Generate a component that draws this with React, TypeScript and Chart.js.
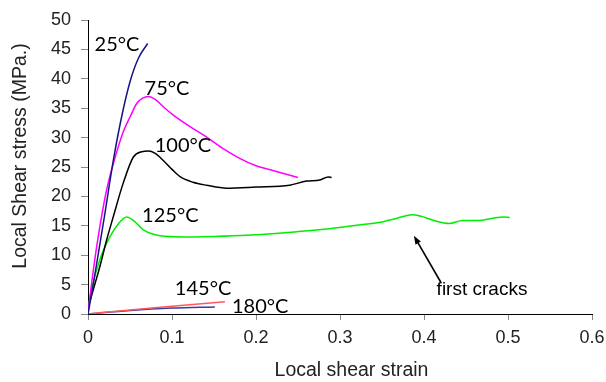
import React, { useEffect, useRef } from "react";
import { Chart, registerables } from "chart.js";

Chart.register(...registerables);

const strain25 = [0, 0.005, 0.012, 0.02, 0.03, 0.04, 0.05, 0.06, 0.071];
const stress25 = [0, 4, 10, 17, 26, 33.5, 39.5, 43.5, 46];

const strain75 = [0, 0.005, 0.012, 0.022, 0.032, 0.042, 0.05, 0.058, 0.065, 0.072, 0.08, 0.09, 0.1, 0.12, 0.14, 0.16, 0.18, 0.2, 0.22, 0.25];
const stress75 = [0, 6, 13, 21, 26.5, 31, 33.5, 35.8, 36.7, 37, 36.5, 35.2, 34, 32, 30.2, 28.2, 26.5, 25.2, 24.4, 23.2];

const strain100 = [0, 0.006, 0.014, 0.022, 0.03, 0.042, 0.054, 0.064, 0.072, 0.08, 0.089, 0.1, 0.11, 0.125, 0.141, 0.165, 0.2, 0.24, 0.26, 0.276, 0.286, 0.29];
const stress100 = [1, 4, 8, 12.5, 16.5, 22.3, 26.7, 27.6, 27.7, 27.3, 26.2, 24.6, 23.3, 22.4, 21.9, 21.4, 21.6, 21.9, 22.6, 22.8, 23.3, 23.2];

const strain125 = [0, 0.004, 0.014, 0.026, 0.036, 0.046, 0.055, 0.066, 0.086, 0.113, 0.15, 0.189, 0.249, 0.288, 0.32, 0.348, 0.368, 0.386, 0.397, 0.412, 0.43, 0.446, 0.465, 0.482, 0.495, 0.502];
const stress125 = [0.5, 4, 9.2, 13.1, 15.3, 16.5, 15.8, 14.3, 13.3, 13.1, 13.2, 13.4, 14, 14.5, 15.1, 15.6, 16.3, 16.9, 16.6, 15.9, 15.4, 15.9, 15.9, 16.3, 16.5, 16.4];

const strain145 = [0, 0.05, 0.1, 0.163];
const stress145 = [0, 0.7, 1.3, 2.1];

const strain180 = [0, 0.05, 0.1, 0.151];
const stress180 = [0, 0.6, 1.0, 1.2];

const seriesNames = ["25°C", "75°C", "100°C", "125°C", "145°C", "180°C"];
const seriesColors = ["#141486", "#ff00ff", "#000000", "#00ee00", "#ff5a5a", "#3a3aa8"];

const xTicks = [0, 0.1, 0.2, 0.3, 0.4, 0.5, 0.6];
const yTicks = [0, 5, 10, 15, 20, 25, 30, 35, 40, 45, 50];

const xTitle = "Local shear strain";
const yTitle = "Local Shear stress (MPa.)";

// label anchors in data units
const labelX = [0.0345, 0.094, 0.113, 0.098, 0.137, 0.205];
const labelY = [45.9, 38.3, 28.6, 16.7, 4.4, 1.2];

const noteText = "first cracks";
const noteAt = [0.415, 4.1];
const arrowFrom = [0.42, 5.4];
const arrowTo = [0.388, 13.3];

const toPts = (xs: number[], ys: number[]) => xs.map((x, i) => ({ x, y: ys[i] }));

const AXIS_FONT = "'Liberation Sans', Arial, sans-serif";

export default function App() {
  const ref = useRef<HTMLCanvasElement>(null);
  useEffect(() => {
    document.body.style.margin = "0";
    const ctx = ref.current!.getContext("2d")!;
    const all = [
      [strain25, stress25],
      [strain75, stress75],
      [strain100, stress100],
      [strain125, stress125],
      [strain145, stress145],
      [strain180, stress180],
    ];
    const annot = {
      id: "annot",
      afterDatasetsDraw(chart: any) {
        const c = chart.ctx;
        const xs = chart.scales.x;
        const ys = chart.scales.y;
        c.save();
        c.fillStyle = "#000";
        c.font = "20px Lato, 'Open Sans', sans-serif";
        c.textAlign = "center";
        c.textBaseline = "middle";
        seriesNames.forEach((n, i) => {
          c.fillText(n, xs.getPixelForValue(labelX[i]), ys.getPixelForValue(labelY[i]));
        });
        c.font = "19px " + AXIS_FONT;
        c.textAlign = "left";
        c.fillText(noteText, xs.getPixelForValue(noteAt[0]), ys.getPixelForValue(noteAt[1]));
        const x1 = xs.getPixelForValue(arrowFrom[0]);
        const y1 = ys.getPixelForValue(arrowFrom[1]);
        const x2 = xs.getPixelForValue(arrowTo[0]);
        const y2 = ys.getPixelForValue(arrowTo[1]);
        const ang = Math.atan2(y2 - y1, x2 - x1);
        c.strokeStyle = "#000";
        c.lineWidth = 1.6;
        c.beginPath();
        c.moveTo(x1, y1);
        c.lineTo(x2 - 5 * Math.cos(ang), y2 - 5 * Math.sin(ang));
        c.stroke();
        c.beginPath();
        c.moveTo(x2, y2);
        c.lineTo(x2 - 9 * Math.cos(ang - 0.35), y2 - 9 * Math.sin(ang - 0.35));
        c.lineTo(x2 - 9 * Math.cos(ang + 0.35), y2 - 9 * Math.sin(ang + 0.35));
        c.closePath();
        c.fill();

        // axis titles
        c.fillStyle = "#222";
        c.font = "19.5px " + AXIS_FONT;
        c.textAlign = "center";
        c.textBaseline = "middle";
        c.fillText(xTitle, 351.5, 371);
        c.translate(21, 156);
        c.rotate(-Math.PI / 2);
        c.fillText(yTitle, 0, 0);
        c.restore();
      },
    };
    const chart = new Chart(ctx, {
      type: "scatter",
      data: {
        datasets: all.map(([xs, ys], i) => ({
          label: seriesNames[i],
          data: toPts(xs, ys),
          showLine: true,
          borderColor: seriesColors[i],
          backgroundColor: seriesColors[i],
          borderWidth: 1.5,
          pointRadius: 0,
          cubicInterpolationMode: "monotone" as const,
        })),
      },
      options: {
        animation: false,
        responsive: false,
        maintainAspectRatio: false,
        layout: { padding: { left: 0, right: 14, top: 20, bottom: 0 } },
        plugins: { legend: { display: false }, tooltip: { enabled: false } },
        scales: {
          x: {
            type: "linear",
            min: 0,
            max: 0.6,
            afterBuildTicks: (s: any) => { s.ticks = xTicks.map((v) => ({ value: v })); },
            afterFit: (s: any) => { s.height = 68; s.paddingLeft = 0; s.paddingRight = 0; },
            grid: { drawOnChartArea: false, color: "#888", tickLength: 6 },
            border: { color: "#000", width: 1 },
            ticks: {
              color: "#222",
              padding: 7,
              maxRotation: 0,
              font: { family: AXIS_FONT, size: 18 },
              callback: (v: any) => String(v),
            },
          },
          y: {
            type: "linear",
            min: 0,
            max: 50,
            afterBuildTicks: (s: any) => { s.ticks = yTicks.map((v) => ({ value: v })); },
            afterFit: (s: any) => { s.width = 88; s.paddingTop = 0; s.paddingBottom = 0; },
            grid: { drawOnChartArea: false, color: "#888", tickLength: 7 },
            border: { color: "#000", width: 1 },
            ticks: {
              color: "#222",
              padding: 10,
              font: { family: AXIS_FONT, size: 18 },
            },
          },
        },
      },
      plugins: [annot],
    });
    return () => chart.destroy();
  }, []);
  return (
    <div style={{ position: "absolute", left: 0, top: 0, width: 606, height: 382, background: "#fff" }}>
      <canvas ref={ref} width={606} height={382} style={{ width: 606, height: 382 }} />
    </div>
  );
}
